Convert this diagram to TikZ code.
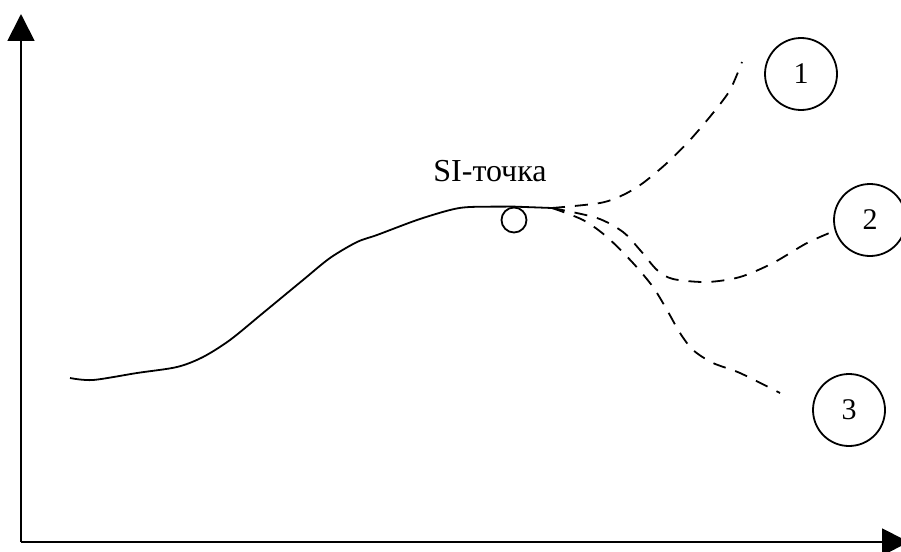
\documentclass[tikz,border=0pt]{standalone}
\usepackage{fontspec}
\setmainfont{Liberation Serif}
\usetikzlibrary{arrows.meta}

\begin{document}
\begin{tikzpicture}[x=1pt, y=-1pt, line width=1.8pt,
  numcirc/.style={draw, circle, minimum size=72pt, inner sep=0pt, font=\fontsize{30}{34}\selectfont},
  branch/.style={dash pattern=on 13pt off 10pt},
  axis/.style={-{Triangle[length=27pt,width=27pt]}}]
\useasboundingbox (0,0) rectangle (901,551);
% axes
\coordinate (o) at (21,542);
\coordinate (ytop) at (21,14);
\coordinate (xend) at (909,542);
\draw[axis] (o) -- (ytop);
\draw[axis] (o) -- (xend);
% SI point and label
\node[draw, circle, fill=white, minimum size=25pt, inner sep=0pt] (si) at (514,220) {};
\node[anchor=base, font=\fontsize{32}{36}\selectfont] (lbl) at (490,181) {SI-точка};
\coordinate (fork) at (552,208);
% outcomes
\node[numcirc] (c1) at (801,74) {1};
\node[numcirc] (c2) at (870,220) {2};
\node[numcirc] (c3) at (849,410) {3};
% main curve
\draw plot[smooth] coordinates {(70,378) (93,380) (137,373) (177,367) (203,357) (230,340)
  (263,313) (303,280) (330,258) (357,242) (377,235) (417,220) (450,210) (470,207) (si.north)};
\draw (si.north) -- (fork);
% branches
\draw[branch] plot[smooth] coordinates {(fork) (600,203) (623,195) (643,183) (667,163)
  (690,140) (713,113) (730,90) (742,62)};
\draw[branch] plot[smooth] coordinates {(fork) (597,218) (623,232) (640,250) (657,270)
  (673,279) (707,282) (740,277) (773,263) (807,243) (c2.197)};
\draw[branch] plot[smooth] coordinates {(fork) (583,220) (607,237) (633,263) (653,287)
  (667,310) (680,333) (693,350) (713,363) (740,373) (780,393)};
\end{tikzpicture}
\end{document}
